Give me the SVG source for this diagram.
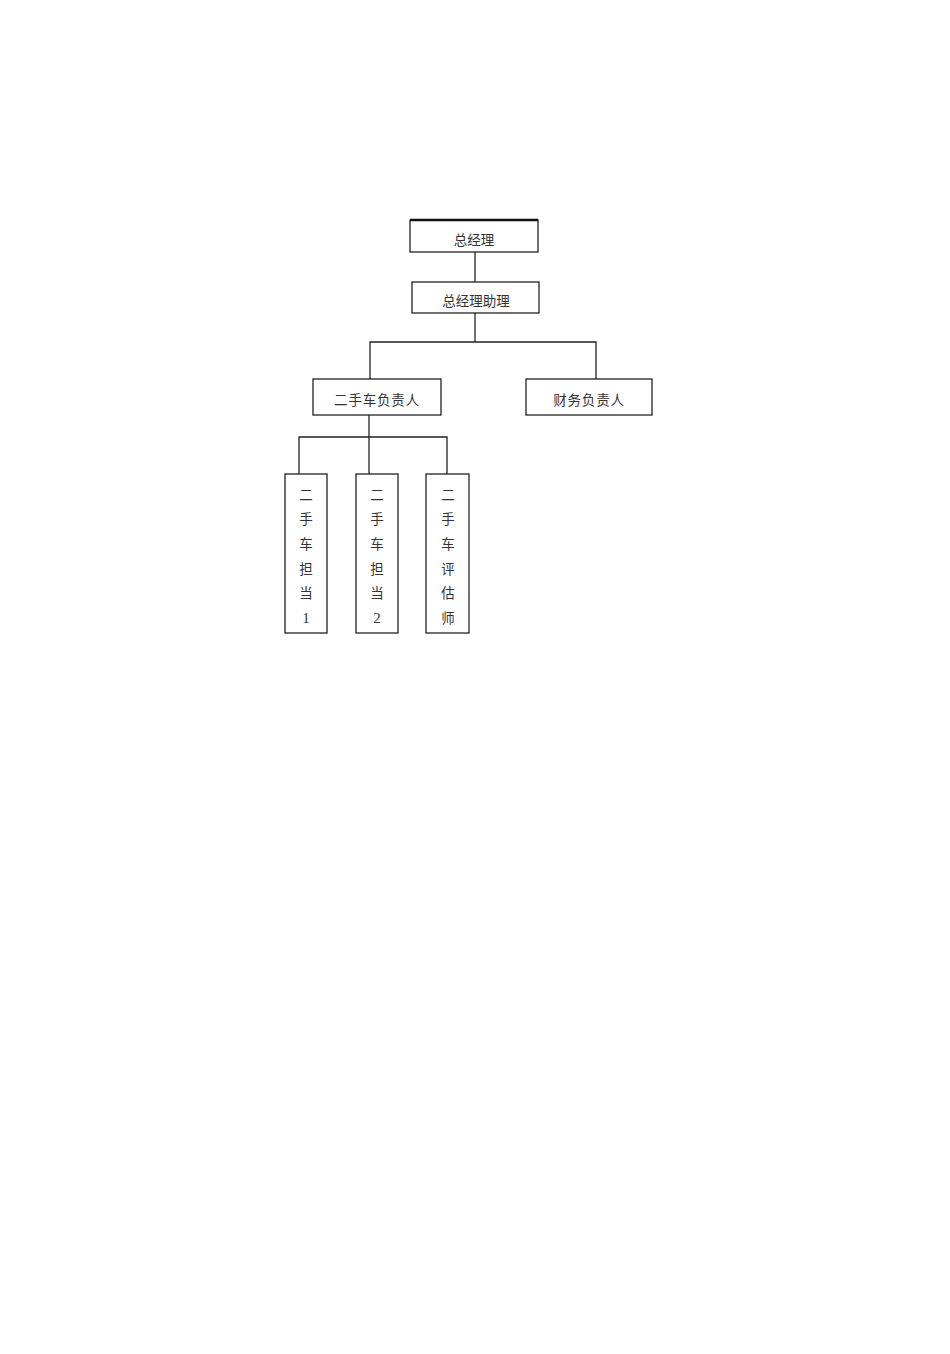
<svg xmlns="http://www.w3.org/2000/svg" width="950" height="1354" viewBox="0 0 950 1354">
<style>
.box{fill:#fff;stroke:#222;stroke-width:1.3}
.ln{stroke:#222;stroke-width:1.3;fill:none}
text{font-family:"Liberation Serif","Noto Sans CJK SC",serif;font-size:13.5px;fill:#333;text-anchor:middle}
.num{font-size:15px}
</style>
<rect width="950" height="1354" fill="#fff"/>
<g id="connectors">
<line class="ln" x1="475" y1="252" x2="475" y2="282"/>
<line class="ln" x1="475" y1="313" x2="475" y2="342"/>
<polyline class="ln" points="370,379 370,342 596,342 596,379"/>
<line class="ln" x1="369" y1="415" x2="369" y2="474"/>
<polyline class="ln" points="299,474 299,437 447,437 447,474"/>
</g>
<g id="n1">
<rect class="box" x="410" y="220" width="128" height="32"/>
<line x1="410" y1="220" x2="538" y2="220" stroke="#111" stroke-width="2.5"/>
<text x="474" y="245">总经理</text>
</g>
<g id="n2">
<rect class="box" x="412" y="282" width="127" height="31"/>
<text x="476" y="306">总经理助理</text>
</g>
<g id="n3">
<rect class="box" x="313" y="379" width="128" height="36"/>
<text x="377" y="405" letter-spacing="0.8">二手车负责人</text>
</g>
<g id="n4">
<rect class="box" x="526" y="379" width="126" height="36"/>
<text x="589" y="405" letter-spacing="0.8">财务负责人</text>
</g>
<g id="n5">
<rect class="box" x="285" y="474" width="42" height="159"/>
<text x="306" y="500">二</text><text x="306" y="524">手</text><text x="306" y="549">车</text><text x="306" y="574">担</text><text x="306" y="598">当</text><text class="num" x="306" y="623">1</text>
</g>
<g id="n6">
<rect class="box" x="356" y="474" width="42" height="159"/>
<text x="377" y="500">二</text><text x="377" y="524">手</text><text x="377" y="549">车</text><text x="377" y="574">担</text><text x="377" y="598">当</text><text class="num" x="377" y="623">2</text>
</g>
<g id="n7">
<rect class="box" x="426" y="474" width="43" height="159"/>
<text x="448" y="500">二</text><text x="448" y="524">手</text><text x="448" y="549">车</text><text x="448" y="574">评</text><text x="448" y="598">估</text><text x="448" y="623">师</text>
</g>
</svg>
